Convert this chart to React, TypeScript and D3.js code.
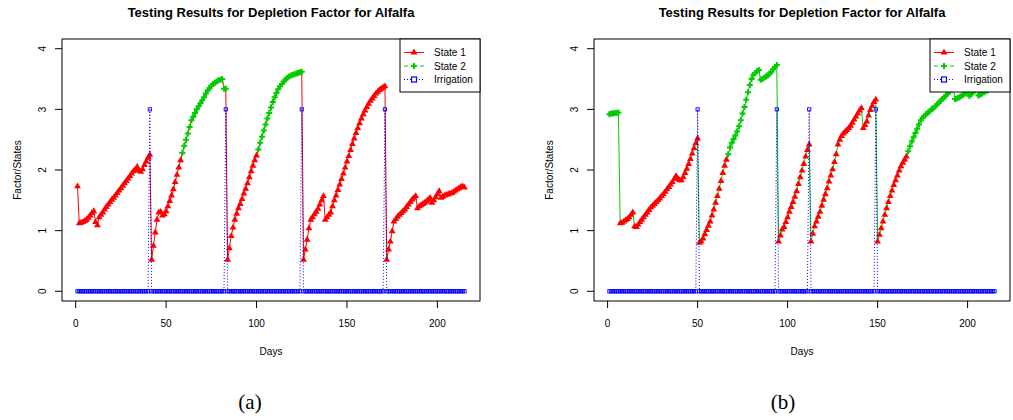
import * as d3 from "d3";

// Depletion factor, days 1..215, run (a)
const factorA = [
  1.73, 1.12, 1.13, 1.14, 1.16, 1.18, 1.21, 1.25, 1.29, 1.32,
  1.14, 1.09, 1.22, 1.26, 1.3, 1.35, 1.39, 1.43, 1.47, 1.51,
  1.54, 1.58, 1.62, 1.66, 1.7, 1.74, 1.78, 1.82, 1.86, 1.9,
  1.94, 1.98, 2.01, 2.05, 1.99, 1.97, 2.01, 2.08, 2.14, 2.2,
  2.25, 0.52, 0.75, 0.97, 1.18, 1.3, 1.31, 1.25, 1.27, 1.32,
  1.4, 1.49, 1.58, 1.68, 1.8, 1.92, 2.04, 2.16, 2.28, 2.4,
  2.5, 2.6, 2.71, 2.82, 2.88, 2.94, 3.0, 3.05, 3.1, 3.15,
  3.2, 3.26, 3.31, 3.35, 3.39, 3.42, 3.44, 3.46, 3.48, 3.49,
  3.5, 3.34, 3.34, 0.52, 0.71, 0.91, 1.05, 1.18, 1.28, 1.37,
  1.44, 1.52, 1.61, 1.69, 1.78, 1.88, 1.98, 2.07, 2.16, 2.24,
  2.34, 2.45, 2.55, 2.65, 2.75, 2.85, 2.94, 3.03, 3.12, 3.2,
  3.27, 3.33, 3.38, 3.42, 3.46, 3.49, 3.52, 3.54, 3.56, 3.57,
  3.58, 3.59, 3.6, 3.61, 3.62, 0.52, 0.69, 0.85, 1.04, 1.18,
  1.22, 1.27, 1.31, 1.36, 1.43, 1.5, 1.57, 1.18, 1.22, 1.26,
  1.3, 1.4, 1.5, 1.58, 1.67, 1.76, 1.85, 1.94, 2.04, 2.14,
  2.23, 2.33, 2.43, 2.52, 2.61, 2.69, 2.77, 2.85, 2.92, 2.98,
  3.04, 3.09, 3.14, 3.18, 3.22, 3.26, 3.29, 3.32, 3.34, 3.36,
  3.38, 0.52, 0.69, 0.82, 0.99, 1.15, 1.19, 1.23, 1.26, 1.29,
  1.32, 1.35, 1.39, 1.43, 1.47, 1.51, 1.54, 1.57, 1.37, 1.4,
  1.42, 1.44, 1.46, 1.48, 1.51, 1.54, 1.46, 1.5, 1.55, 1.6,
  1.65, 1.54, 1.56, 1.58, 1.59, 1.6, 1.61, 1.62, 1.64, 1.66,
  1.68, 1.7, 1.72, 1.73, 1.71,
];

// Depletion factor, days 1..215, run (b)
const factorB = [
  2.92, 2.93, 2.93, 2.94, 2.94, 2.95, 1.12, 1.13, 1.15, 1.17,
  1.19, 1.22, 1.26, 1.3, 1.07, 1.06, 1.1, 1.14, 1.18, 1.22,
  1.26, 1.3, 1.34, 1.38, 1.41, 1.44, 1.47, 1.5, 1.53, 1.57,
  1.6, 1.64, 1.68, 1.72, 1.76, 1.8, 1.85, 1.9, 1.86, 1.83,
  1.83, 1.88, 1.95, 2.02, 2.1, 2.18, 2.27, 2.36, 2.44, 2.52,
  0.8, 0.82, 0.87, 0.94, 1.01, 1.08, 1.15, 1.25, 1.35, 1.46,
  1.57, 1.69, 1.82, 1.95, 2.07, 2.17, 2.26, 2.37, 2.45, 2.51,
  2.57, 2.64, 2.72, 2.82, 2.93, 3.04, 3.16, 3.28, 3.4, 3.5,
  3.57, 3.6, 3.63, 3.65, 3.49, 3.5, 3.52, 3.54, 3.56, 3.59,
  3.62, 3.66, 3.7, 3.73, 0.82, 0.92, 1.02, 1.06, 1.14, 1.22,
  1.31, 1.39, 1.47, 1.56, 1.65, 1.77, 1.88, 1.99, 2.1, 2.22,
  2.33, 2.42, 0.82, 0.95, 1.07, 1.15, 1.23, 1.31, 1.41, 1.51,
  1.6, 1.7, 1.81, 1.91, 2.01, 2.13, 2.26, 2.42, 2.5, 2.56,
  2.6, 2.63, 2.66, 2.69, 2.73, 2.78, 2.83, 2.88, 2.93, 2.98,
  3.02, 2.69, 2.74, 2.8, 2.9, 2.99, 3.06, 3.12, 3.16, 0.82,
  0.93, 1.04, 1.15, 1.26, 1.37, 1.47, 1.57, 1.66, 1.75, 1.83,
  1.91, 1.99, 2.06, 2.12, 2.17, 2.22, 2.31, 2.39, 2.47, 2.54,
  2.61, 2.68, 2.75, 2.82, 2.86, 2.89, 2.92, 2.95, 2.97, 3.0,
  3.02, 3.05, 3.08, 3.11, 3.14, 3.17, 3.2, 3.23, 3.26, 3.29,
  3.32, 3.35, 3.17, 3.18, 3.19, 3.21, 3.23, 3.25, 3.27, 3.29,
  3.22, 3.25, 3.28, 3.31, 3.35, 3.23, 3.24, 3.26, 3.28, 3.3,
  3.31, 3.33, 3.34, 3.35, 3.36,
];

// day ranges spent in State 2 (all other days are State 1)
const state2RunsA: [number, number][] = [[59, 83], [101, 125]];
const state2RunsB: [number, number][] = [[1, 6], [67, 94], [167, 215]];

const irrigationDaysA = [41, 83, 125, 171];
const irrigationDaysB = [50, 94, 112, 149];
const irrigationLevel = 3;

const xTicks = [0, 50, 100, 150, 200];
const yTicks = [0, 1, 2, 3, 4];
const legendLabels = ["State 1", "State 2", "Irrigation"];

const RED = "#ff0000";
const GREEN = "#00cd00";
const BLUE = "#0000ff";
const FONT = "'Liberation Sans', Arial, Helvetica, sans-serif";

const triPath = d3.symbol(d3.symbolTriangle, 20)() as string;
const crossPath = d3.symbol(d3.symbolCross, 20)() as string;

type PanelProps = {
  left: number;
  right: number;
  factor: number[];
  state2Runs: [number, number][];
  irrigationDays: number[];
  baseColor: string;
  greenOverlay: boolean;
  caption: string;
  captionX: number;
};

function Panel({ left, right, factor, state2Runs, irrigationDays, baseColor, greenOverlay, caption, captionX }: PanelProps) {
  const top = 39;
  const bottom = 301;
  const x = d3.scaleLinear().domain([-7.56, 223.56]).range([left, right]);
  const y = d3.scaleLinear().domain([-0.16, 4.16]).range([bottom, top]);

  const pts = factor.map((v, i) => {
    const day = i + 1;
    return { day, v, s2: state2Runs.some(([a, b]) => day >= a && day <= b) };
  });
  const irr = factor.map((_, i) => ({
    day: i + 1,
    v: irrigationDays.includes(i + 1) ? irrigationLevel : 0,
  }));

  const line = d3
    .line<{ day: number; v: number }>()
    .x((d) => x(d.day))
    .y((d) => y(d.v));
  const s2Line = d3
    .line<{ day: number; v: number; s2: boolean }>()
    .defined((d) => d.s2)
    .x((d) => x(d.day))
    .y((d) => y(d.v));

  const cx = (left + right) / 2;
  const cy = (top + bottom) / 2;
  const lw = 80;
  const lx = right - lw;

  return (
    <g fontFamily={FONT}>
      <text x={cx} y={16.5} textAnchor="middle" fontSize={13} fontWeight="bold">
        Testing Results for Depletion Factor for Alfalfa
      </text>

      {/* series */}
      <path d={line(pts) ?? ""} fill="none" stroke={baseColor} strokeWidth={1} />
      {greenOverlay && (
        <path d={s2Line(pts) ?? ""} fill="none" stroke={GREEN} strokeWidth={1} strokeDasharray="4,4" />
      )}
      {pts.filter((d) => !d.s2).map((d) => (
        <path key={"t" + d.day} d={triPath} transform={`translate(${x(d.day)},${y(d.v)})`} fill={RED} />
      ))}
      {pts.filter((d) => d.s2).map((d) => (
        <path key={"c" + d.day} d={crossPath} transform={`translate(${x(d.day)},${y(d.v)})`} fill={GREEN} />
      ))}
      <path d={line(irr) ?? ""} fill="none" stroke={BLUE} strokeWidth={1} strokeDasharray="1,2" />
      {irr.map((d) => (
        <rect key={"s" + d.day} x={x(d.day) - 1.6} y={y(d.v) - 1.6} width={3.2} height={3.2}
          fill="none" stroke={BLUE} strokeWidth={0.9} />
      ))}

      {/* box */}
      <rect x={left} y={top} width={right - left} height={bottom - top} fill="none" stroke="#000" strokeWidth={1} />

      {/* x axis */}
      {xTicks.map((t) => (
        <g key={"x" + t}>
          <line x1={x(t)} x2={x(t)} y1={bottom} y2={bottom + 7} stroke="#000" />
          <text x={x(t)} y={327} textAnchor="middle" fontSize={10}>{t}</text>
        </g>
      ))}
      <text x={cx} y={355} textAnchor="middle" fontSize={10}>Days</text>

      {/* y axis */}
      {yTicks.map((t) => (
        <g key={"y" + t}>
          <line x1={left - 7} x2={left} y1={y(t)} y2={y(t)} stroke="#000" />
          <text transform={`translate(${left - 16},${y(t)}) rotate(-90)`} textAnchor="middle" fontSize={10}>{t}</text>
        </g>
      ))}
      <text transform={`translate(${left - 41},${cy}) rotate(-90)`} textAnchor="middle" fontSize={10}>
        Factor/States
      </text>

      {/* legend */}
      <rect x={lx} y={top} width={lw} height={53} fill="#fff" stroke="#000" strokeWidth={1} />
      {legendLabels.map((lab, i) => {
        const ly = top + 13.5 + i * 13.5;
        const col = [RED, GREEN, BLUE][i];
        const dash = ["", "4,4", "1,2"][i];
        return (
          <g key={lab}>
            <line x1={lx + 4} x2={lx + 24} y1={ly} y2={ly} stroke={col} strokeDasharray={dash || undefined} />
            {i === 0 && <path d={triPath} transform={`translate(${lx + 14},${ly})`} fill={RED} />}
            {i === 1 && <path d={crossPath} transform={`translate(${lx + 14},${ly})`} fill={GREEN} />}
            {i === 2 && (
              <rect x={lx + 11.5} y={ly - 2.5} width={5} height={5} fill="#fff" stroke={BLUE} strokeWidth={1.2} />
            )}
            <text x={lx + 34} y={ly + 3.5} fontSize={10}>{lab}</text>
          </g>
        );
      })}

      <text x={captionX} y={409} textAnchor="middle" fontSize={21}
        fontFamily="'Liberation Serif', 'DejaVu Serif', serif">
        {caption}
      </text>
    </g>
  );
}

export default function App() {
  return (
    <svg width={1013} height={420} style={{ position: "absolute", left: 0, top: 0, background: "#fff" }}>
      <rect width={1013} height={420} fill="#fff" />
      <Panel left={62} right={480} factor={factorA} state2Runs={state2RunsA} irrigationDays={irrigationDaysA}
        baseColor={RED} greenOverlay={true} caption="(a)" captionX={250} />
      <Panel left={594} right={1010} factor={factorB} state2Runs={state2RunsB} irrigationDays={irrigationDaysB}
        baseColor={GREEN} greenOverlay={false} caption="(b)" captionX={783} />
    </svg>
  );
}
